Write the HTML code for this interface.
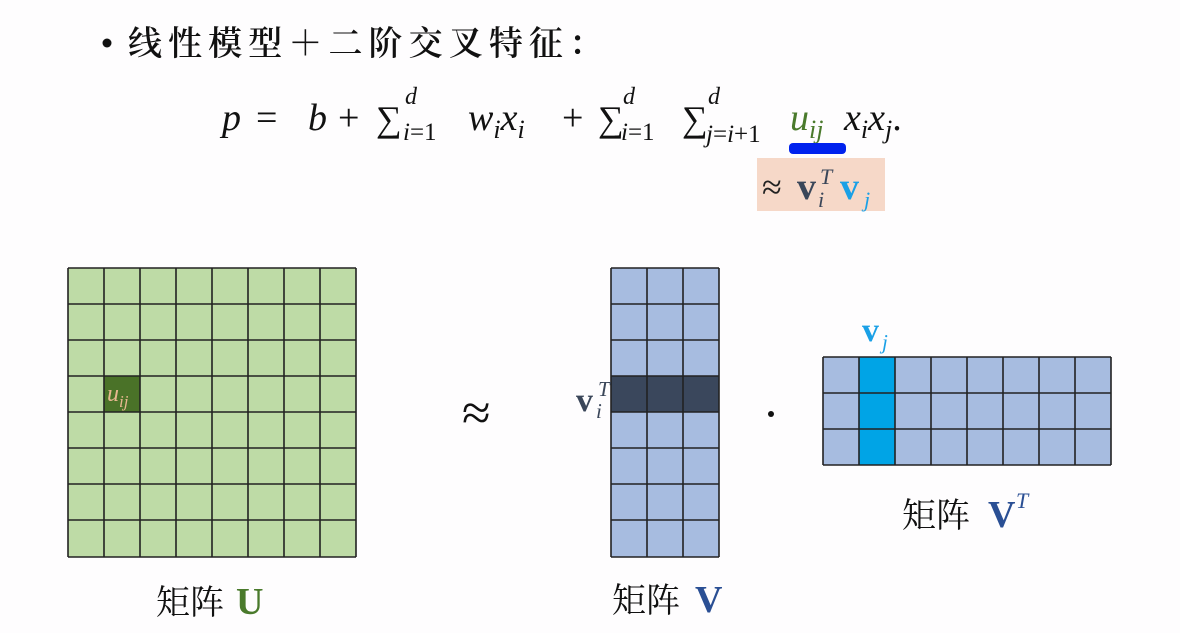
<!DOCTYPE html>
<html><head><meta charset="utf-8"><style>
html,body{margin:0;padding:0;background:#fff;width:1180px;height:633px;overflow:hidden}
svg text{font-family:"Liberation Serif","Noto Serif CJK SC",serif}
.cjk{font-family:"Noto Serif CJK SC","Liberation Serif",serif}
.it{font-style:italic}
</style></head><body>
<svg width="1180" height="633" viewBox="0 0 1180 633" xmlns="http://www.w3.org/2000/svg">
<rect width="1180" height="633" fill="#fefdfe"/>
<!-- title -->
<circle cx="107" cy="43" r="4.5" fill="#111"/>
<text x="128" y="55" class="cjk" font-size="34" font-weight="600" fill="#111" textLength="475" lengthAdjust="spacing">线性模型＋二阶交叉特征：</text>
<!-- formula -->
<g font-size="38" fill="#111">
<text x="222" y="130" class="it">p</text>
<text x="256" y="130">=</text>
<text x="308" y="130" class="it">b</text>
<text x="338" y="130">+</text>
<text x="376" y="131" font-size="36">∑</text>
<text x="405" y="104" font-size="24" class="it">d</text>
<text x="403" y="140" font-size="25" font-weight="normal"><tspan class="it">i</tspan>=1</text>
<text x="468" y="130" class="it">w<tspan font-size="26" dy="8">i</tspan><tspan dy="-8">x</tspan><tspan font-size="26" dy="8">i</tspan></text>
<text x="562" y="130">+</text>
<text x="598" y="131" font-size="36">∑</text>
<text x="623" y="104" font-size="24" class="it">d</text>
<text x="621" y="140" font-size="25" font-weight="normal"><tspan class="it">i</tspan>=1</text>
<text x="682" y="131" font-size="36">∑</text>
<text x="708" y="104" font-size="24" class="it">d</text>
<text x="706" y="142" font-size="25" font-weight="normal"><tspan class="it">j</tspan>=<tspan class="it">i</tspan>+1</text>
<text x="790" y="130" class="it" fill="#4a7a2c">u<tspan font-size="26" dy="8">ij</tspan></text>
<text x="844" y="130" class="it">x<tspan font-size="26" dy="8">i</tspan><tspan dy="-8">x</tspan><tspan font-size="26" dy="8">j</tspan><tspan dy="-8" font-style="normal">.</tspan></text>
</g>
<rect x="789" y="143" width="57" height="11" rx="4" fill="#0022ee"/>
<rect x="757" y="158" width="128" height="53" fill="#f6d8c8"/>
<text x="762" y="199" font-size="36" fill="#222">≈</text>
<text x="797" y="199" font-size="38" font-weight="bold" fill="#3a4659">v</text>
<text x="820" y="184" font-size="22" class="it" fill="#3a4659">T</text>
<text x="818" y="207" font-size="22" class="it" fill="#3a4659">i</text>
<text x="840" y="199" font-size="38" font-weight="bold" fill="#1aa0e6">v</text>
<text x="864" y="207" font-size="22" class="it" fill="#1aa0e6">j</text>
<!-- matrix U -->
<rect x="68" y="268" width="288" height="289" fill="#bedba6"/>
<rect x="104" y="376" width="36" height="36" fill="#4a7228"/>
<g stroke="#222" stroke-width="1.6">
<path d="M68 268V557M104 268V557M140 268V557M176 268V557M212 268V557M248 268V557M284 268V557M320 268V557M356 268V557"/>
<path d="M68 268H356M68 304H356M68 340H356M68 376H356M68 412H356M68 448H356M68 484H356M68 520H356M68 557H356"/>
</g>
<text x="107" y="401" font-size="24" class="it" fill="#e8b890">u<tspan font-size="17" dy="6">ij</tspan></text>
<!-- approx -->
<text x="462" y="430" font-size="52" fill="#111">≈</text>
<!-- matrix V -->
<rect x="611" y="268" width="108" height="289" fill="#a7bce0"/>
<rect x="611" y="376" width="108" height="36" fill="#3a475c"/>
<g stroke="#222" stroke-width="1.6">
<path d="M611 268V557M647 268V557M683 268V557M719 268V557"/>
<path d="M611 268H719M611 304H719M611 340H719M611 376H719M611 412H719M611 448H719M611 484H719M611 520H719M611 557H719"/>
</g>
<text x="576" y="411" font-size="34" font-weight="bold" fill="#3a4659">v</text>
<text x="598" y="396" font-size="21" class="it" fill="#3a4659">T</text>
<text x="596" y="418" font-size="21" class="it" fill="#3a4659">i</text>
<!-- dot -->
<circle cx="771" cy="414" r="3" fill="#111"/>
<!-- matrix VT -->
<rect x="823" y="357" width="288" height="108" fill="#a7bce0"/>
<rect x="859" y="357" width="36" height="108" fill="#00a4e6"/>
<g stroke="#222" stroke-width="1.6">
<path d="M823 357V465M859 357V465M895 357V465M931 357V465M967 357V465M1003 357V465M1039 357V465M1075 357V465M1111 357V465"/>
<path d="M823 357H1111M823 393H1111M823 429H1111M823 465H1111"/>
</g>
<text x="862" y="341" font-size="34" font-weight="bold" fill="#1aa0e6">v</text>
<text x="882" y="349" font-size="21" class="it" fill="#1aa0e6">j</text>
<!-- labels -->
<text x="156" y="614" class="cjk" font-size="34" fill="#111">矩阵</text>
<text x="236" y="614" font-size="38" font-weight="bold" fill="#4a7a2c">U</text>
<text x="612" y="612" class="cjk" font-size="34" fill="#111">矩阵</text>
<text x="695" y="612" font-size="38" font-weight="bold" fill="#2a4f94">V</text>
<text x="902" y="527" class="cjk" font-size="34" fill="#111">矩阵</text>
<text x="988" y="527" font-size="38" font-weight="bold" fill="#2a4f94">V</text>
<text x="1016" y="508" font-size="22" class="it" fill="#2a4f94">T</text>
</svg>
</body></html>
